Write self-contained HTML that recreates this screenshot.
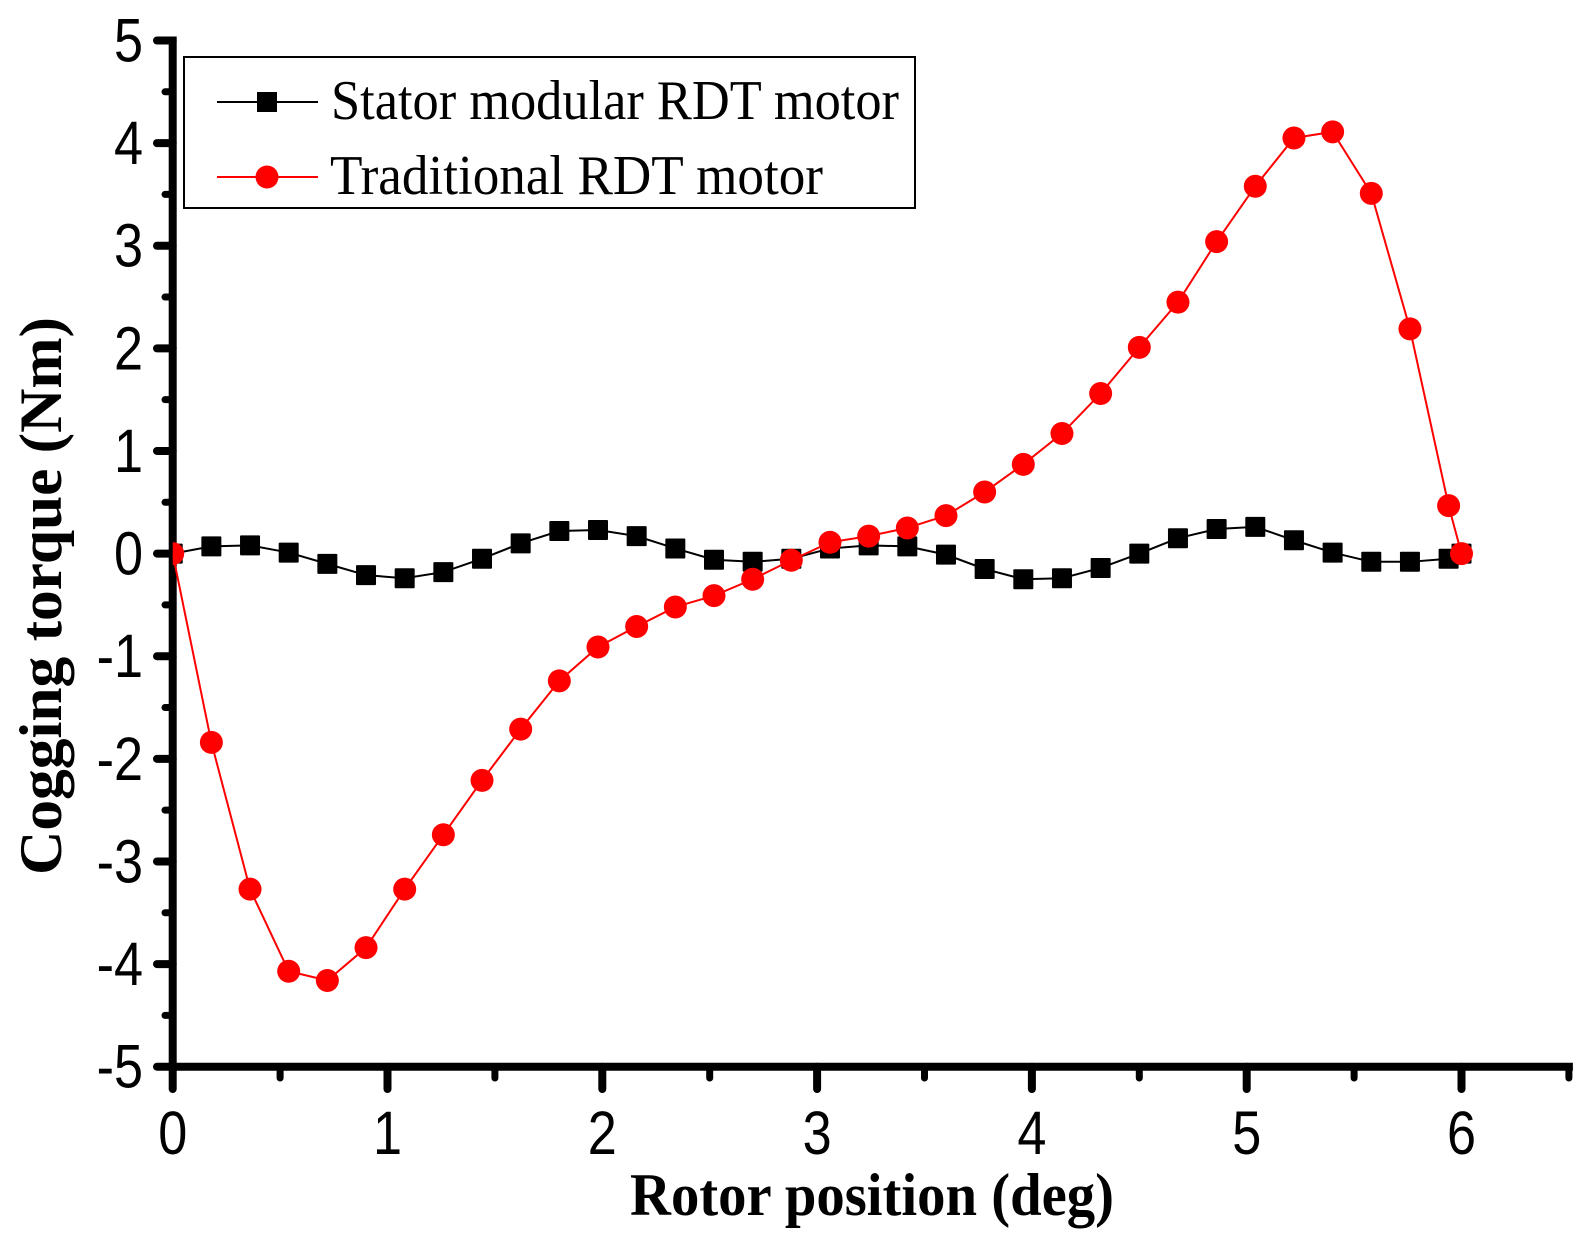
<!DOCTYPE html>
<html>
<head>
<meta charset="utf-8">
<title>Cogging torque chart</title>
<style>
html,body{margin:0;padding:0;background:#fff;}
svg{display:block;}
text{fill:#000;}
.tick-label{font-family:"Liberation Sans",sans-serif;font-size:60px;}
.axis-title{font-family:"Liberation Serif",serif;font-size:60px;font-weight:bold;}
.legend-label{font-family:"Liberation Serif",serif;font-size:56px;}
</style>
</head>
<body>
<svg id="chart" xmlns="http://www.w3.org/2000/svg" width="1585" height="1236" viewBox="0 0 1585 1236">
  <defs>
    <clipPath id="plot-clip"><rect x="172.7" y="0" width="1412" height="1236"/></clipPath>
  </defs>
  <rect x="0" y="0" width="1585" height="1236" fill="#fff"/>
  <g id="axis-layer"></g>
  <g id="series-layer" clip-path="url(#plot-clip)"></g>
  <text class="axis-title" x="630" y="1215" textLength="484" lengthAdjust="spacingAndGlyphs">Rotor position (deg)</text>
  <text class="axis-title" transform="translate(61 875) rotate(-90)" x="0" y="0" textLength="558" lengthAdjust="spacingAndGlyphs">Cogging torque (Nm)</text>
  <g>
    <rect x="184" y="57" width="731" height="151" fill="#fff" stroke="#000" stroke-width="2"/>
    <line x1="217" x2="318" y1="102" y2="102" stroke="#000" stroke-width="2"/>
    <rect x="257" y="92" width="20" height="20" fill="#000"/>
    <text class="legend-label" x="331" y="119" textLength="568" lengthAdjust="spacingAndGlyphs">Stator modular RDT motor</text>
    <line x1="217" x2="318" y1="177" y2="177" stroke="#f00" stroke-width="2"/>
    <circle cx="267" cy="177" r="11.5" fill="#f00"/>
    <text class="legend-label" x="330" y="194" textLength="493" lengthAdjust="spacingAndGlyphs">Traditional RDT motor</text>
  </g>
</svg>
<script>
const positions = [0,0.18,0.36,0.54,0.72,0.9,1.08,1.26,1.44,1.62,1.8,1.98,2.16,2.34,2.52,2.7,2.88,3.06,3.24,3.42,3.6,3.78,3.96,4.14,4.32,4.5,4.68,4.86,5.04,5.22,5.4,5.58,5.76,5.94,6];
const statorTorque = [0,0.07,0.08,0.01,-0.10,-0.21,-0.24,-0.18,-0.05,0.10,0.22,0.23,0.17,0.05,-0.06,-0.08,-0.05,0.05,0.08,0.07,-0.01,-0.15,-0.25,-0.24,-0.14,0,0.15,0.24,0.26,0.13,0.01,-0.08,-0.08,-0.05,0];
const traditionalTorque = [0,-1.84,-3.27,-4.07,-4.16,-3.84,-3.27,-2.74,-2.21,-1.71,-1.24,-0.91,-0.71,-0.52,-0.41,-0.25,-0.065,0.11,0.17,0.25,0.37,0.60,0.87,1.17,1.56,2.01,2.45,3.04,3.58,4.05,4.11,3.51,2.19,0.467,0];
const xMajorTicks = [0,1,2,3,4,5,6];
const xMinorTicks = [0.5,1.5,2.5,3.5,4.5,5.5,6.5];
const yMajorTicks = [5,4,3,2,1,0,-1,-2,-3,-4,-5];
const yMinorTicks = [4.5,3.5,2.5,1.5,0.5,-0.5,-1.5,-2.5,-3.5,-4.5];

const NS = 'http://www.w3.org/2000/svg';
const xScale = v => 172.7 + 214.8 * v;
const yScale = v => 553.6 - 102.62 * v;
const seriesLayer = document.getElementById('series-layer');
const axisLayer = document.getElementById('axis-layer');

function make(tag, parent, attrs) {
  const el = document.createElementNS(NS, tag);
  for (const k in attrs) el.setAttribute(k, attrs[k]);
  parent.appendChild(el);
  return el;
}

function axisLine(parent, x1, y1, x2, y2, w) {
  return make('line', parent, {x1, y1, x2, y2, stroke: '#000', 'stroke-width': w, 'stroke-linecap': 'round'});
}

/* stator series */
const statorLine = make('polyline', seriesLayer, {
  points: positions.map((p, i) => xScale(p) + ',' + yScale(statorTorque[i])).join(' '),
  fill: 'none', stroke: '#000', 'stroke-width': 2
});


positions.forEach((p, i) => {
  const m = make('rect', seriesLayer, {
    x: xScale(p) - 10, y: yScale(statorTorque[i]) - 10, width: 20, height: 20, rx: 1, fill: '#000'
  });
  
  
});

/* traditional series */
const tradLine = make('polyline', seriesLayer, {
  points: positions.map((p, i) => xScale(p) + ',' + yScale(traditionalTorque[i])).join(' '),
  fill: 'none', stroke: '#f00', 'stroke-width': 2
});


positions.forEach((p, i) => {
  const m = make('circle', seriesLayer, {
    cx: xScale(p), cy: yScale(traditionalTorque[i]), r: 11.5, fill: '#f00'
  });
  
  
});

/* axes */
const yAxisLine = make('line', axisLayer, {x1: xScale(0), x2: xScale(0), y1: yScale(5), y2: yScale(-5), stroke: '#000', 'stroke-width': 8, 'stroke-linecap': 'square'});


const xAxisLine = make('line', axisLayer, {x1: xScale(0), x2: xScale(6.5), y1: yScale(-5), y2: yScale(-5), stroke: '#000', 'stroke-width': 8, 'stroke-linecap': 'square'});



yMajorTicks.forEach(v => {
  const t = axisLine(axisLayer, 157, yScale(v), xScale(0), yScale(v), 8);
  
  
  const l = make('text', axisLayer, {class: 'tick-label', 'text-anchor': 'end',
    transform: 'translate(143 ' + (yScale(v) + 21) + ') scale(0.87 1.02)'});
  l.textContent = String(v);
  
  
});
yMinorTicks.forEach(v => {
  const t = axisLine(axisLayer, 165, yScale(v), xScale(0), yScale(v), 7);
  
  
});
xMajorTicks.forEach(v => {
  const t = axisLine(axisLayer, xScale(v), yScale(-5), xScale(v), 1089, 8);
  
  
  const l = make('text', axisLayer, {class: 'tick-label', 'text-anchor': 'middle',
    transform: 'translate(' + xScale(v) + ' 1154) scale(0.87 1.02)'});
  l.textContent = String(v);
  
  
});
xMinorTicks.forEach(v => {
  const t = axisLine(axisLayer, xScale(v), yScale(-5), xScale(v), 1078, 7);
  
  
});
</script>
</body>
</html>
